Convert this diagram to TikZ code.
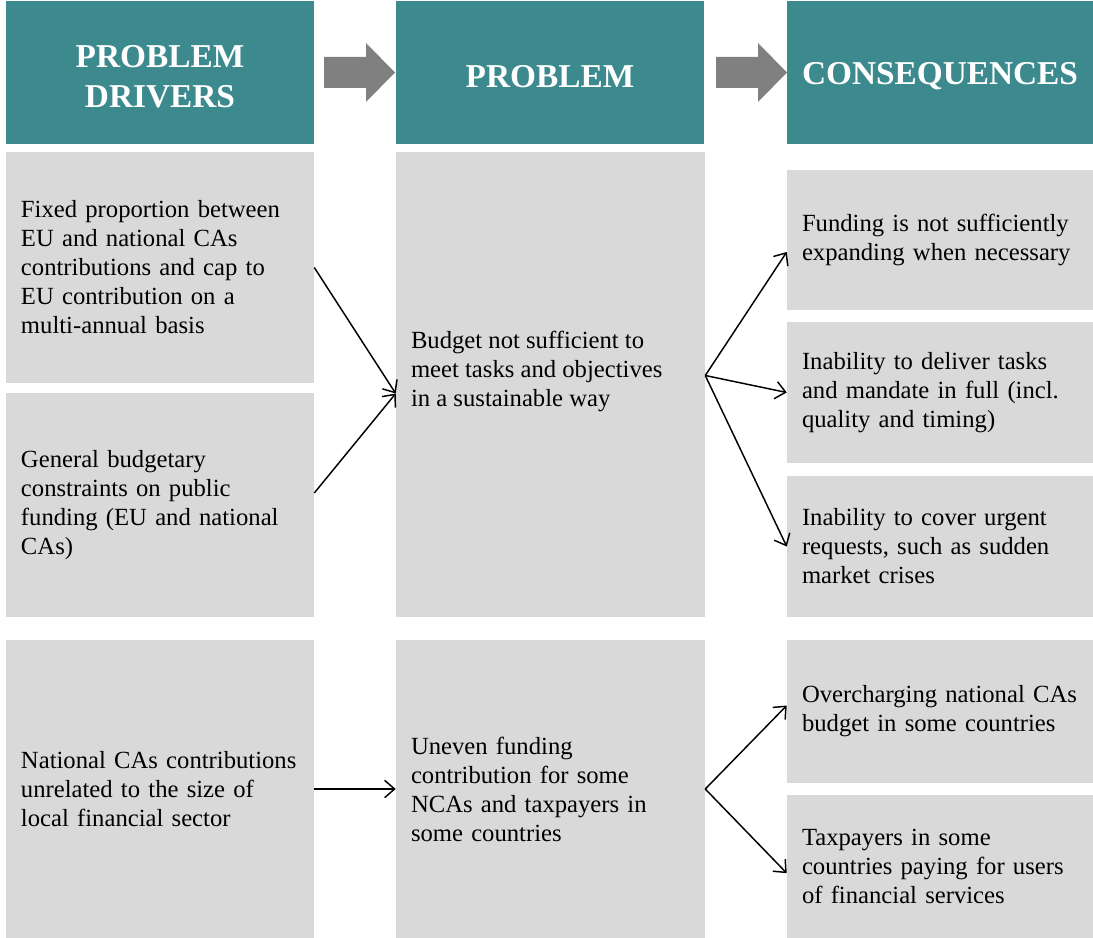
\documentclass[tikz,border=0pt]{standalone}
\usepackage{fontspec}
\setmainfont{Liberation Serif}
\usetikzlibrary{arrows.meta}

\definecolor{hdrteal}{RGB}{60,138,142}
\definecolor{boxgrey}{RGB}{217,217,217}
\definecolor{arrowgrey}{RGB}{128,128,128}

\newcommand\hdrdown[1]{\raisebox{-3pt}[\height][\depth]{#1}}

\begin{document}
\begin{tikzpicture}[x=0.75pt, y=-0.75pt,
    >={Straight Barb[length=7.5pt,width=13pt]},
    hdr/.style = {
      fill = hdrteal,
      text = white,
      font = \fontsize{25pt}{30pt}\selectfont\bfseries,
      align = center,
      inner sep = 0pt,
      minimum height = 107.25pt
    },
    box/.style = {
      fill = boxgrey,
      align = left,
      font = \fontsize{18.5pt}{21.75pt}\selectfont,
      inner xsep = 11.25pt,
      inner ysep = 0pt
    },
    drvbox/.style = {box, text width = 208.5pt, minimum width = 231pt},
    probbox/.style = {box, text width = 209.25pt, minimum width = 231.75pt},
    consbox/.style = {box, text width = 207pt, minimum width = 229.5pt},
    link/.style = {->, line width = 1.1pt}
  ]
  \useasboundingbox (0,0) rectangle (1093,938);

  % headers
  \node[hdr, minimum width=231pt] (hdrv) at (160,72.5) {\hdrdown{PROBLEM}\\\hdrdown{DRIVERS}};
  \node[hdr, minimum width=231pt] (hprob) at (550,72.5) {\hdrdown{PROBLEM}};
  \node[hdr, minimum width=229.5pt] (hcons) at (940,72.5) {\hdrdown{CONSEQUENCES}};

  \foreach \x in {324,716}
    \path[fill=arrowgrey] (\x,57) -- ++(42,0) -- ++(0,-14) -- ++(29,29.5)
      -- ++(-29,29.5) -- ++(0,-14) -- ++(-42,0) -- cycle;

  % problem drivers
  \node[drvbox, minimum height=173.25pt] (drv1) at (160,267.5)
    {Fixed proportion between\\EU and national CAs\\contributions and cap to\\EU contribution on a\\multi-annual basis};
  \node[drvbox, minimum height=168pt] (drv2) at (160,505)
    {General budgetary\\constraints on public\\funding (EU and national\\CAs)};
  \node[drvbox, minimum height=223.5pt] (drv3) at (160,789)
    {National CAs contributions\\unrelated to the size of\\local financial sector};

  % problems
  \node[probbox, minimum height=348.75pt] (prob1) at (550.5,384.5) {};
  \node[box, anchor=west, fill=none] (prob1txt) at ([yshift=9.75pt]prob1.west)
    {Budget not sufficient to\\meet tasks and objectives\\in a sustainable way};
  \node[probbox, minimum height=223.5pt] (prob2) at (550.5,789)
    {Uneven funding\\contribution for some\\NCAs and taxpayers in\\some countries};

  % consequences
  \node[consbox, minimum height=105pt] (cons1) at (940,240)
    {Funding is not sufficiently\\expanding when necessary};
  \node[consbox, minimum height=105.75pt] (cons2) at (940,392.5)
    {Inability to deliver tasks\\and mandate in full (incl.\\quality and timing)};
  \node[consbox, minimum height=105.75pt] (cons3) at (940,546.5)
    {Inability to cover urgent\\requests, such as sudden\\market crises};
  \node[consbox, minimum height=107.25pt] (cons4) at (940,711.5)
    {Overcharging national CAs\\budget in some countries};
  \node[consbox, minimum height=107.25pt] (cons5) at (940,866.5)
    {Taxpayers in some\\countries paying for users\\of financial services};

  \draw[link] (drv1.east) -- ([yshift=-6.75pt]prob1.west);
  \draw[link] ([yshift=9pt]drv2.east) -- ([yshift=-6.75pt]prob1.west);
  \draw[link] ([yshift=6.75pt]prob1.east) -- ([yshift=-9pt]cons1.west);
  \draw[link] ([yshift=6.75pt]prob1.east) -- (cons2.west);
  \draw[link] ([yshift=6.75pt]prob1.east) -- (cons3.west);

  \draw[link] (drv3.east) -- (prob2.west);
  \draw[link] (prob2.east) -- ([yshift=4.5pt]cons4.west);
  \draw[link] (prob2.east) -- ([yshift=-5pt]cons5.west);
\end{tikzpicture}
\end{document}
